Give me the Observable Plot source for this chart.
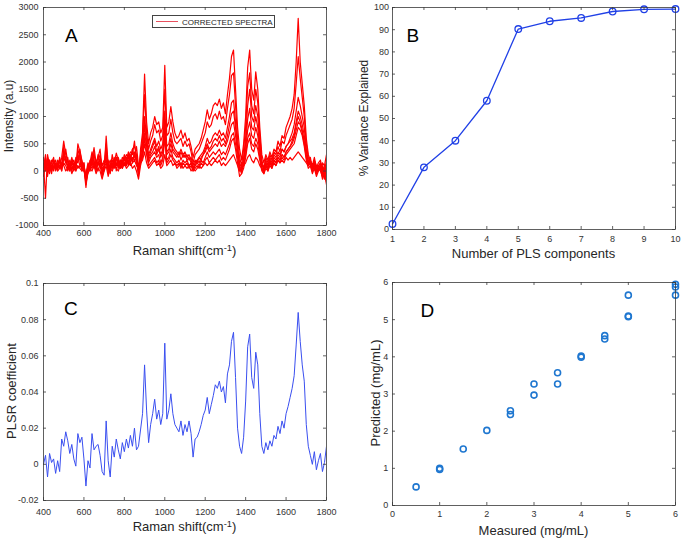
<!DOCTYPE html>
<html>
<head>
<meta charset="utf-8">
<script src="https://cdn.jsdelivr.net/npm/d3@7"></script>
<script src="https://cdn.jsdelivr.net/npm/@observablehq/plot@0.6"></script>
<style>
  html, body { margin: 0; padding: 0; background: #fff; }
  #fig { position: relative; width: 682px; height: 539px; background: #fff; overflow: hidden;
         font-family: 'Liberation Sans', Arial, Helvetica, sans-serif; color: #262626; }
  .pane { position: absolute; }
  .lbl { position: absolute; white-space: nowrap; line-height: 1; transform-origin: center center; }
  .sup { font-size: 0.72em; position: relative; top: -0.45em; }
</style>
</head>
<body>
<div id="fig"></div>
<script>
// ---------------- DATA ----------------
const ramanShift = [
  400,410,420,430,440,450,460,470,480,490,
  500,510,520,530,540,550,560,570,580,590,
  600,610,620,630,640,650,660,670,680,690,
  700,710,720,730,740,750,760,770,780,790,
  800,810,820,830,840,850,860,870,880,890,
  900,910,920,930,940,950,960,970,980,990,
  1000,1010,1020,1030,1040,1050,1060,1070,1080,1090,
  1100,1110,1120,1130,1140,1150,1160,1170,1180,1190,
  1200,1210,1220,1230,1240,1250,1260,1270,1280,1290,
  1300,1310,1320,1330,1340,1350,1360,1370,1380,1390,
  1400,1410,1420,1430,1440,1450,1460,1470,1480,1490,
  1500,1510,1520,1530,1540,1550,1560,1570,1580,1590,
  1600,1610,1620,1630,1640,1650,1660,1670,1680,1690,
  1700,1710,1720,1730,1740,1750,1760,1770,1780,1790,
  1800
];

// Panel A: corrected spectra (intensity, a.u.)
const spectrum1 = [
  150,-500,300,100,50,200,100,150,50,250,
  550,300,200,100,250,100,50,500,350,200,
  50,-300,50,100,200,430,150,250,400,50,
  0,640,100,-50,200,150,330,200,100,250,
  200,300,250,350,300,550,200,-100,400,700,
  1780,900,500,700,800,1000,850,900,700,800,
  1940,800,900,1180,900,700,600,650,750,600,
  700,550,600,450,250,400,450,500,600,750,
  900,1120,950,1050,1200,1250,1200,1320,1150,1250,
  1050,1400,1700,2100,2220,1500,800,400,200,500,
  1000,1900,2220,1500,1300,1820,1500,800,300,150,
  300,200,350,250,400,350,550,450,650,600,
  800,900,1000,1150,1400,2000,2800,2000,1600,1200,
  600,300,200,100,250,50,150,200,0,100,
  300
];
const spectrum2 = [
  50,200,0,150,100,0,150,50,100,0,
  350,200,100,150,0,150,100,300,200,50,
  100,-150,100,0,250,100,50,150,100,-100,
  50,300,0,100,50,200,100,150,50,200,
  100,200,150,250,200,300,150,50,250,500,
  1000,600,300,400,500,600,450,550,400,500,
  1100,450,500,700,500,400,350,300,400,300,
  350,250,300,200,50,150,200,250,300,350,
  450,600,500,550,650,700,650,750,650,700,
  600,800,1000,1250,1300,900,450,150,50,250,
  600,1200,1500,1000,900,1200,1000,500,150,0,
  150,50,200,100,250,200,300,250,400,350,
  450,500,600,700,850,1100,1350,1200,1000,800,
  400,200,100,0,150,-50,50,100,-100,0,
  -200
];
const spectrum3 = [
  200,100,250,50,200,150,50,200,150,100,
  200,400,150,50,200,50,200,150,400,150,
  0,-50,150,50,300,150,100,300,50,100,
  150,100,200,0,150,100,250,50,200,100,
  250,150,300,200,400,250,450,100,200,350,
  700,450,200,300,350,450,300,400,250,350,
  800,300,350,500,350,300,250,350,200,300,
  250,300,200,250,100,200,150,250,200,300,
  350,450,350,400,450,500,450,550,450,500,
  450,550,700,850,900,650,350,100,0,150,
  400,750,900,650,600,800,650,350,100,50,
  200,100,250,150,300,250,350,300,400,350,
  450,500,550,600,700,900,1100,1000,850,650,
  350,150,250,50,200,100,0,150,50,-100,
  100
];
const spectrum4 = [
  0,150,50,-50,100,50,100,0,50,150,
  100,0,50,100,-50,50,0,100,50,0,
  50,-200,-50,50,0,100,-50,50,0,-150,
  0,100,-100,50,0,100,50,0,100,50,
  150,50,100,150,50,100,0,-150,100,250,
  500,300,100,150,200,250,150,200,100,200,
  600,150,200,300,200,150,100,150,50,150,
  100,150,50,100,0,50,100,50,150,100,
  200,250,150,200,250,200,250,300,200,250,
  200,300,400,550,600,400,150,-100,-50,50,
  250,500,600,400,350,500,400,200,0,-50,
  50,0,100,50,150,100,200,150,250,200,
  300,350,400,450,500,650,800,750,650,450,
  200,50,100,-50,50,-100,0,50,-150,-50,
  -250
];
const spectrum5 = [
  100,50,150,100,0,100,50,150,100,50,
  150,100,0,100,50,100,150,50,100,50,
  100,-100,0,100,50,150,100,0,150,50,
  100,200,50,100,150,50,150,100,150,50,
  150,100,200,100,150,200,100,50,150,200,
  350,150,50,100,150,200,100,150,50,100,
  300,100,150,200,100,150,50,100,150,50,
  100,50,100,0,50,0,50,100,50,100,
  150,100,150,100,150,200,150,200,100,150,
  100,150,200,250,300,200,100,0,50,100,
  150,250,300,200,150,250,200,100,50,0,
  100,50,150,100,150,100,200,150,200,150,
  250,200,250,200,250,300,350,300,250,200,
  150,100,150,50,100,0,100,50,150,100,
  0
];
const spectrum6 = [
  -100,100,200,0,150,250,0,100,200,50,
  450,150,250,0,150,200,0,400,250,100,
  150,-200,100,150,350,200,0,200,300,-50,
  100,500,50,0,300,100,250,100,200,150,
  300,200,350,200,400,450,300,0,300,600,
  1400,700,400,550,650,850,700,750,550,650,
  1500,650,700,950,700,550,500,550,600,450,
  550,450,500,350,150,300,350,400,500,600,
  700,900,800,850,1000,1050,950,1100,950,1000,
  850,1150,1400,1750,1800,1200,600,250,100,400,
  800,1550,1800,1200,1050,1500,1250,650,200,50,
  250,150,300,200,350,300,450,350,550,500,
  650,750,850,950,1150,1600,2100,1700,1350,1000,
  500,250,150,0,200,-50,100,150,-50,50,
  150
];
const spectrum7 = [
  50,300,-100,200,50,150,200,0,250,100,
  300,250,50,200,100,0,250,200,300,0,
  150,-250,0,200,100,350,0,150,200,0,
  50,400,-50,150,100,250,0,200,50,150,
  100,250,100,300,150,350,200,-50,150,400,
  850,500,250,350,450,550,350,450,300,400,
  950,350,400,600,400,350,300,250,350,250,
  300,200,250,150,0,100,200,150,250,300,
  400,500,400,450,550,600,550,650,550,600,
  500,650,850,1050,1100,800,400,50,-50,200,
  500,950,1150,800,750,1000,800,400,50,-50,
  100,0,150,50,200,150,250,200,300,250,
  350,400,450,550,650,850,1000,900,750,550,
  300,100,200,0,100,-50,50,0,-100,50,
  -100
];
const spectrum8 = [
  250,0,100,200,-50,200,100,50,200,0,
  250,150,100,0,150,100,200,250,100,150,
  0,-100,100,0,150,50,200,100,250,100,
  200,150,100,200,50,200,100,250,100,200,
  200,100,250,150,250,200,300,50,150,300,
  600,350,150,250,300,350,250,300,150,250,
  650,200,250,400,250,200,150,200,100,200,
  150,200,100,150,50,100,150,100,200,150,
  250,350,250,300,350,300,350,400,300,350,
  300,400,500,650,700,500,250,0,50,100,
  300,600,700,500,450,600,500,250,50,0,
  150,50,200,100,200,150,250,200,300,250,
  350,400,450,500,600,750,900,850,700,500,
  250,100,200,0,150,50,100,0,100,-150,
  200
];
const spectra = [spectrum1, spectrum2, spectrum3, spectrum4, spectrum5, spectrum6, spectrum7, spectrum8];

// Panel B: cumulative % variance explained
const plsComponents = [1,2,3,4,5,6,7,8,9,10];
const varianceExplained = [2.5, 28, 40, 58, 90.3, 93.8, 95.3, 98.2, 99.2, 99.3];

// Panel C: PLSR coefficients
const plsrCoefficient = [
  0.000,0.005,-0.007,0.006,0.001,0.003,-0.005,0.002,-0.004,0.014,
  0.010,0.018,0.013,0.006,0.011,0.003,-0.001,0.017,0.012,0.015,
  0.003,-0.012,0.002,-0.002,0.017,0.008,0.010,0.011,0.005,-0.004,
  -0.006,0.024,0.002,-0.007,0.010,0.004,0.014,0.008,0.003,0.012,
  0.007,0.014,0.009,0.016,0.010,0.020,0.008,0.010,0.019,0.028,
  0.055,0.030,0.012,0.022,0.028,0.036,0.025,0.030,0.022,0.028,
  0.067,0.025,0.030,0.039,0.028,0.022,0.020,0.018,0.024,0.016,
  0.022,0.018,0.024,0.017,0.004,0.014,0.015,0.018,0.022,0.027,
  0.030,0.037,0.028,0.033,0.038,0.044,0.042,0.046,0.040,0.043,
  0.034,0.050,0.055,0.068,0.073,0.048,0.020,0.010,0.006,0.015,
  0.035,0.065,0.072,0.048,0.042,0.062,0.055,0.028,0.010,0.006,
  0.012,0.008,0.013,0.010,0.016,0.014,0.021,0.017,0.024,0.020,
  0.028,0.032,0.037,0.042,0.049,0.066,0.084,0.068,0.055,0.046,
  0.022,0.010,0.005,0.000,0.007,-0.003,0.002,0.006,-0.004,0.001,
  0.010
];

// Panel D: measured vs predicted (mg/mL)
const measured  = [0.5, 1, 1, 1.5, 2, 2.5, 2.5, 3, 3, 3.5, 3.5, 4, 4, 4.5, 4.5, 5, 5, 5, 6, 6, 6];
const predicted = [0.5, 1.0, 0.97, 1.52, 2.02, 2.55, 2.45, 3.27, 2.97, 3.57, 3.27, 4.02, 3.99, 4.57, 4.48, 5.66, 5.1, 5.08, 5.95, 5.88, 5.66];

// tick labels
const ticksShift = [400, 600, 800, 1000, 1200, 1400, 1600, 1800];
const ticksIntensity = [-1000, -500, 0, 500, 1000, 1500, 2000, 2500, 3000];
const ticksComponents = [1,2,3,4,5,6,7,8,9,10];
const ticksVariance = [0,10,20,30,40,50,60,70,80,90,100];
const ticksCoef = [-0.02, 0, 0.02, 0.04, 0.06, 0.08, 0.1];
const ticksConc = [0,1,2,3,4,5,6];

// ---------------- DRAWING ----------------
const FONT = "'Liberation Sans', Arial, Helvetica, sans-serif";
const AX = "#3a3a3a";
const fig = document.getElementById("fig");

function panel(o) {
  const ih = o.height - o.mt - o.mb, iw = o.width - o.ml - o.mr;
  const fmt = d => String(d);
  const chart = Plot.plot({
    width: o.width, height: o.height,
    marginTop: o.mt, marginRight: o.mr, marginBottom: o.mb, marginLeft: o.ml,
    x: {domain: o.xdomain},
    y: {domain: o.ydomain},
    style: {fontFamily: FONT, fontSize: "9px", color: "#333", background: "transparent", overflow: "visible"},
    marks: [
      ...o.marks,
      Plot.frame({stroke: AX, strokeWidth: 0.8}),
      Plot.tickX(o.xticks, {x: d => d, insetTop: ih - 3, stroke: AX, strokeWidth: 0.8}),
      Plot.tickX(o.xticks, {x: d => d, insetBottom: ih - 3, stroke: AX, strokeWidth: 0.8}),
      Plot.tickY(o.yticks, {y: d => d, insetRight: iw - 3, stroke: AX, strokeWidth: 0.8}),
      Plot.tickY(o.yticks, {y: d => d, insetLeft: iw - 3, stroke: AX, strokeWidth: 0.8}),
      Plot.axisX(o.xticks, {tickSize: 0, tickPadding: o.padX, tickFormat: fmt, label: null}),
      Plot.axisY(o.yticks, {tickSize: 0, tickPadding: o.padY, tickFormat: fmt, label: null})
    ]
  });
  const wrap = document.createElement("div");
  wrap.className = "pane";
  wrap.style.left = o.left + "px";
  wrap.style.top = o.top + "px";
  wrap.appendChild(chart);
  fig.appendChild(wrap);
}

function label(html, cx, cy, size, rotate) {
  const d = document.createElement("div");
  d.className = "lbl";
  d.innerHTML = html;
  d.style.fontSize = size + "px";
  d.style.left = cx + "px";
  d.style.top = cy + "px";
  d.style.transform = "translate(-50%,-50%)" + (rotate ? " rotate(-90deg)" : "");
  fig.appendChild(d);
}

function letter(t, left, top) {
  const d = document.createElement("div");
  d.className = "lbl";
  d.textContent = t;
  d.style.fontSize = "19px";
  d.style.color = "#000";
  d.style.left = left + "px";
  d.style.top = top + "px";
  fig.appendChild(d);
}

// Panel A
const spectraRows = spectra.flatMap((s, k) => s.map((v, i) => ({shift: ramanShift[i], value: v, series: k})));
panel({
  left: 0, top: 0, width: 341, height: 260, mt: 7, mr: 15, mb: 35, ml: 43,
  xdomain: [400, 1800], ydomain: [-1000, 3000],
  xticks: ticksShift, yticks: ticksIntensity, padX: 4.5, padY: 5,
  marks: [
    Plot.line(spectraRows, {x: "shift", y: "value", z: "series", stroke: "#ff0000", strokeWidth: 1.2, clip: true})
  ]
});

// Panel B
const varRows = plsComponents.map((c, i) => ({c, v: varianceExplained[i]}));
panel({
  left: 341, top: 0, width: 341, height: 260, mt: 7, mr: 7, mb: 31, ml: 51,
  xdomain: [1, 10], ydomain: [0, 100],
  xticks: ticksComponents, yticks: ticksVariance, padX: 6, padY: 3.5,
  marks: [
    Plot.line(varRows, {x: "c", y: "v", stroke: "#2040e6", strokeWidth: 1.3}),
    Plot.dot(varRows, {x: "c", y: "v", r: 3.3, stroke: "#2040e6", strokeWidth: 1.3, fill: "none"})
  ]
});

// Panel C
const coefRows = ramanShift.map((s, i) => ({shift: s, value: plsrCoefficient[i]}));
panel({
  left: 0, top: 260, width: 341, height: 279, mt: 23, mr: 15, mb: 39, ml: 43,
  xdomain: [400, 1800], ydomain: [-0.02, 0.1],
  xticks: ticksShift, yticks: ticksCoef, padX: 8.3, padY: 5,
  marks: [
    Plot.line(coefRows, {x: "shift", y: "value", stroke: "#3a4ff0", strokeWidth: 1, clip: true})
  ]
});

// Panel D
const concRows = measured.map((m, i) => ({m, p: predicted[i]}));
panel({
  left: 341, top: 260, width: 341, height: 279, mt: 22, mr: 7, mb: 34, ml: 51,
  xdomain: [0, 6], ydomain: [0, 6],
  xticks: ticksConc, yticks: ticksConc, padX: 5, padY: 4.3,
  marks: [
    Plot.dot(concRows, {x: "m", y: "p", r: 3, stroke: "#1f77d0", strokeWidth: 1.6, fill: "none"})
  ]
});

// Axis titles
label("Raman shift(cm<span class='sup'>-1</span>)", 184.5, 251, 13, false);
label("Intensity (a.u)", 8.5, 116, 12, true);
label("Number of PLS components", 533.5, 253, 13, false);
label("% Variance Explained", 364, 118, 12, true);
label("Raman shift(cm<span class='sup'>-1</span>)", 184.5, 527, 13, false);
label("PLSR coefficient", 11, 391, 13, true);
label("Measured (mg/mL)", 533.5, 530, 13, false);
label("Predicted (mg/mL)", 375, 393, 13, true);

// Panel letters
letter("A", 65, 25.5);
letter("B", 406.5, 25.5);
letter("C", 64, 299);
letter("D", 420.5, 300.5);

// Legend of panel A
const lg = document.createElement("div");
lg.style.cssText = "position:absolute;left:152px;top:15px;width:123px;height:13px;border:1px solid #444;background:#fff;box-sizing:border-box;";
lg.innerHTML = "<div style='position:absolute;left:3px;top:5px;width:22px;border-top:1.5px solid #e8505e'></div>" +
  "<div style='position:absolute;left:29px;top:1.5px;font-size:8px;line-height:9px;white-space:nowrap;color:#262626'>CORRECTED SPECTRA</div>";
fig.appendChild(lg);
</script>
</body>
</html>
